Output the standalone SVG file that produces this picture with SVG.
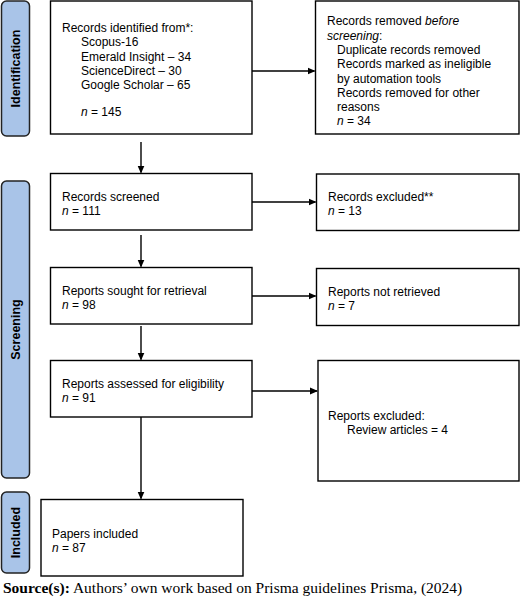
<svg xmlns="http://www.w3.org/2000/svg" width="520" height="602" viewBox="0 0 520 602">
<defs>
<marker id="ah" markerWidth="8" markerHeight="8" refX="7" refY="4" orient="auto" markerUnits="userSpaceOnUse">
<path d="M0,0.5 L8,4 L0,7.5 Z" fill="#000"/>
</marker>
<style>
.box{fill:#fff;stroke:#000;stroke-width:1.4}
.side{fill:#a9c4e8;stroke:#222;stroke-width:1.5}
.t{font-family:"Liberation Sans",Arial,sans-serif;font-size:12px;fill:#000}
.st{font-family:"Liberation Sans",Arial,sans-serif;font-size:12.5px;font-weight:bold;fill:#000}
.c{stroke:#000;stroke-width:1.4;fill:none;marker-end:url(#ah)}
.src{font-family:"Liberation Serif","Times New Roman",serif;font-size:15.5px;fill:#000}
</style>
</defs>
<rect width="520" height="602" fill="#fff"/>

<g id="phase-identification">
<rect class="side" x="1.5" y="1" width="28" height="135" rx="5"/>
<text class="st" transform="translate(20,68.5) rotate(-90)" text-anchor="middle">Identification</text>
</g>
<g id="phase-screening">
<rect class="side" x="1.5" y="181" width="28" height="297" rx="5"/>
<text class="st" transform="translate(20,329.5) rotate(-90)" text-anchor="middle">Screening</text>
</g>
<g id="phase-included">
<rect class="side" x="1.5" y="492" width="28" height="81" rx="5"/>
<text class="st" transform="translate(20,532.5) rotate(-90)" text-anchor="middle">Included</text>
</g>

<g id="records-identified">
<rect class="box" x="50.5" y="1" width="201.5" height="133"/>
<text class="t" x="62" y="31.5">Records identified from*:</text>
<text class="t" x="81" y="46">Scopus-16</text>
<text class="t" x="81" y="60.5">Emerald Insight – 34</text>
<text class="t" x="81" y="74.5">ScienceDirect – 30</text>
<text class="t" x="81" y="89">Google Scholar – 65</text>
<text class="t" x="81" y="116"><tspan font-style="italic">n</tspan> = 145</text>
</g>

<g id="records-removed">
<rect class="box" x="315.5" y="1" width="203.5" height="133"/>
<text class="t" x="327" y="25">Records removed <tspan font-style="italic">before</tspan></text>
<text class="t" x="327" y="39.5"><tspan font-style="italic">screening</tspan>:</text>
<text class="t" x="337" y="54">Duplicate records removed</text>
<text class="t" x="337" y="68">Records marked as ineligible</text>
<text class="t" x="337" y="82.5">by automation tools</text>
<text class="t" x="337" y="96.5">Records removed for other</text>
<text class="t" x="337" y="110.5">reasons</text>
<text class="t" x="337" y="125"><tspan font-style="italic">n</tspan> = 34</text>
</g>

<g id="records-screened">
<rect class="box" x="50.5" y="173.5" width="201.5" height="56.5"/>
<text class="t" x="62" y="200.5">Records screened</text>
<text class="t" x="62" y="214.5"><tspan font-style="italic">n</tspan> = 111</text>
</g>

<g id="records-excluded">
<rect class="box" x="316.5" y="174" width="202.5" height="56.5"/>
<text class="t" x="328" y="200.5">Records excluded**</text>
<text class="t" x="328" y="214.5"><tspan font-style="italic">n</tspan> = 13</text>
</g>

<g id="reports-sought">
<rect class="box" x="50.5" y="267.5" width="201.5" height="56.5"/>
<text class="t" x="62" y="294.5">Reports sought for retrieval</text>
<text class="t" x="62" y="308.5"><tspan font-style="italic">n</tspan> = 98</text>
</g>

<g id="reports-not-retrieved">
<rect class="box" x="316.5" y="268.5" width="202.5" height="57"/>
<text class="t" x="328" y="295.5">Reports not retrieved</text>
<text class="t" x="328" y="309.5"><tspan font-style="italic">n</tspan> = 7</text>
</g>

<g id="reports-assessed">
<rect class="box" x="50.5" y="360.5" width="201.5" height="56.5"/>
<text class="t" x="62" y="387.5">Reports assessed for eligibility</text>
<text class="t" x="62" y="401.5"><tspan font-style="italic">n</tspan> = 91</text>
</g>

<g id="reports-excluded">
<rect class="box" x="318" y="360.5" width="201" height="120.5"/>
<text class="t" x="328" y="419.5">Reports excluded:</text>
<text class="t" x="347" y="433.5">Review articles = 4</text>
</g>

<g id="papers-included">
<rect class="box" x="41" y="499.5" width="202" height="76.5"/>
<text class="t" x="52" y="537.5">Papers included</text>
<text class="t" x="52" y="551.5"><tspan font-style="italic">n</tspan> = 87</text>
</g>

<g id="connectors">
<path class="c" d="M252,71 L314.5,71"/>
<path class="c" d="M141,142 L141,172.5"/>
<path class="c" d="M252,202 L315.5,202"/>
<path class="c" d="M141,235 L141,266.5"/>
<path class="c" d="M252,296 L315.5,296"/>
<path class="c" d="M141,326 L141,359.5"/>
<path class="c" d="M252,391 L317,391"/>
<path class="c" d="M141,417 L141,498.5"/>
</g>

<text class="src" x="3" y="593"><tspan font-weight="bold">Source(s):</tspan> Authors’ own work based on Prisma guidelines Prisma, (2024)</text>
</svg>
